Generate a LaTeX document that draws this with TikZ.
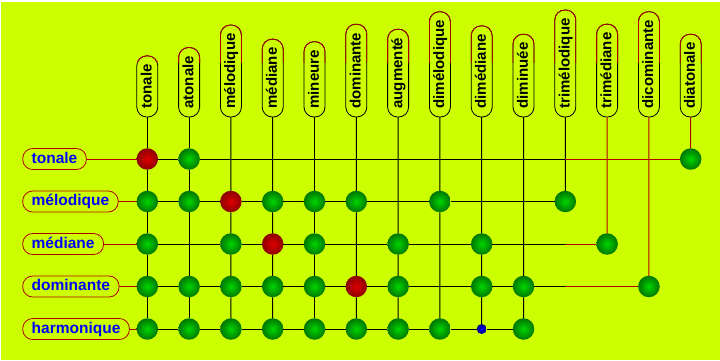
\documentclass[tikz,border=0pt]{standalone}
\usepackage{fontspec}
\setsansfont{Liberation Sans}
\usepackage{tikz}
\definecolor{bgyellow}{RGB}{204,255,0}
\definecolor{labred}{RGB}{176,0,0}
\definecolor{ballgreen}{RGB}{0,214,0}
\definecolor{balldkgreen}{RGB}{0,118,0}
\definecolor{ballred}{RGB}{222,0,0}
\definecolor{balldkred}{RGB}{140,0,0}
\definecolor{dotblue}{RGB}{0,0,230}
\definecolor{dotdkblue}{RGB}{0,0,140}

\begin{document}
\begin{tikzpicture}[x=1pt,y=-1pt,
    collab/.style={draw=black,line width=0.8pt,rounded corners=10pt,rotate=90,anchor=west,
      minimum height=21pt,inner xsep=8.5pt,inner ysep=0pt,outer sep=0pt,text height=11.5pt,text depth=3pt,
      font=\sffamily\bfseries\fontsize{15}{17}\selectfont},
    rowlab/.style={draw=labred,line width=0.8pt,rounded corners=10pt,anchor=west,
      minimum height=21pt,inner xsep=9pt,inner ysep=0pt,outer sep=0pt,text height=11.5pt,text depth=3pt,
      text=blue,font=\sffamily\bfseries\fontsize{15.5}{17}\selectfont},
    gball/.style={circle,minimum size=21.5pt,inner sep=0pt,outer sep=0pt,shading=radial,inner color=ballgreen,outer color=balldkgreen},
    rball/.style={gball,inner color=ballred,outer color=balldkred},
    bdot/.style={circle,minimum size=10pt,inner sep=0pt,outer sep=0pt,shading=radial,inner color=dotblue,outer color=dotdkblue},
    wire/.style={line width=1pt},
    redwire/.style={wire,labred}]
  \useasboundingbox (0,0) rectangle (720,360);
  \fill[white] (0,0) rectangle (720,360);
  \fill[bgyellow] (1,1.5) rectangle (720,360);

  \node[collab] (ctonale) at (147.3,117) {tonale};
  \node[collab] (catonale) at (189.1,117) {atonale};
  \node[collab] (cmelodique) at (230.9,117) {mélodique};
  \node[collab] (cmediane) at (272.7,117) {médiane};
  \node[collab] (cmineure) at (314.5,117) {mineure};
  \node[collab] (cdominante) at (356.3,117) {dominante};
  \node[collab] (caugmente) at (398.1,117) {augmenté};
  \node[collab] (cdimelodique) at (439.9,117) {dimélodique};
  \node[collab] (cdimediane) at (481.7,117) {dimédiane};
  \node[collab] (cdiminuee) at (523.5,117) {diminuée};
  \node[collab] (ctrimelodique) at (565.3,117) {trimélodique};
  \node[collab] (ctrimediane) at (607.1,117) {trimédiane};
  \node[collab] (cdicominante) at (648.9,117) {dicominante};
  \node[collab] (cdiatonale) at (690.7,117) {diatonale};

  \begin{scope}
    \clip (0,0) rectangle (720,62);
    \foreach \n in {ctonale,catonale,cmelodique,cmediane,cmineure,cdominante,caugmente,
      cdimelodique,cdimediane,cdiminuee,ctrimelodique,ctrimediane,cdicominante,cdiatonale}
      \draw[labred,line width=0.8pt,rounded corners=10pt] (\n.south west) rectangle (\n.north east);
  \end{scope}

  \node[rowlab] (rtonale) at (22.7,159) {tonale};
  \node[rowlab] (rmelodique) at (22.7,201.5) {mélodique};
  \node[rowlab] (rmediane) at (22.7,244) {médiane};
  \node[rowlab] (rdominante) at (22.7,286.5) {dominante};
  \node[rowlab] (rharmonique) at (22.7,329) {harmonique};

  \node[rball] (b1-1) at (147.3,159) {};
  \foreach \c in {2,14} \node[gball] (b1-\c) at ({105.5+41.8*\c},159) {};
  \node[rball] (b2-3) at (230.9,201.5) {};
  \foreach \c in {1,2,4,5,6,8,11} \node[gball] (b2-\c) at ({105.5+41.8*\c},201.5) {};
  \node[rball] (b3-4) at (272.7,244) {};
  \foreach \c in {1,3,5,7,9,12} \node[gball] (b3-\c) at ({105.5+41.8*\c},244) {};
  \node[rball] (b4-6) at (356.3,286.5) {};
  \foreach \c in {1,2,3,4,5,7,9,10,13} \node[gball] (b4-\c) at ({105.5+41.8*\c},286.5) {};
  \foreach \c in {1,2,3,4,5,6,7,8,10} \node[gball] (b5-\c) at ({105.5+41.8*\c},329) {};
  \node[bdot] (b5-9) at (481.7,329) {};

  \coordinate (s1) at (565.3,159);
  \coordinate (s3) at (565.3,244);
  \coordinate (s4) at (565.3,286.5);

  \draw[wire] (ctonale) -- (b1-1) -- (b2-1) -- (b3-1) -- (b4-1) -- (b5-1);
  \draw[wire] (catonale) -- (b1-2) -- (b2-2) -- (b4-2) -- (b5-2);
  \draw[wire] (cmelodique) -- (b2-3) -- (b3-3) -- (b4-3) -- (b5-3);
  \draw[wire] (cmediane) -- (b2-4) -- (b3-4) -- (b4-4) -- (b5-4);
  \draw[wire] (cmineure) -- (b2-5) -- (b3-5) -- (b4-5) -- (b5-5);
  \draw[wire] (cdominante) -- (b2-6) -- (b4-6) -- (b5-6);
  \draw[wire] (caugmente) -- (b3-7) -- (b4-7) -- (b5-7);
  \draw[wire] (cdimelodique) -- (b2-8) -- (b5-8);
  \draw[wire] (cdimediane) -- (b3-9) -- (b4-9) -- (b5-9);
  \draw[wire] (cdiminuee) -- (b4-10) -- (b5-10);
  \draw[wire] (ctrimelodique) -- (b2-11);
  \draw[redwire] (ctrimediane) -- (b3-12);
  \draw[redwire] (cdicominante) -- (b4-13);
  \draw[redwire] (cdiatonale) -- (b1-14);

  \draw[redwire] (rtonale) -- (b1-1);
  \draw[wire] (b1-1) -- (b1-2) -- (s1);
  \draw[redwire] (s1) -- (b1-14);
  \draw[redwire] (rmelodique) -- (b2-1);
  \draw[wire] (b2-1) -- (b2-2) -- (b2-3) -- (b2-4) -- (b2-5) -- (b2-6) -- (b2-8) -- (b2-11);
  \draw[redwire] (rmediane) -- (b3-1);
  \draw[wire] (b3-1) -- (b3-3) -- (b3-4) -- (b3-5) -- (b3-7) -- (b3-9) -- (s3);
  \draw[redwire] (s3) -- (b3-12);
  \draw[redwire] (rdominante) -- (b4-1);
  \draw[wire] (b4-1) -- (b4-2) -- (b4-3) -- (b4-4) -- (b4-5) -- (b4-6) -- (b4-7) -- (b4-9) -- (b4-10) -- (s4);
  \draw[redwire] (s4) -- (b4-13);
  \draw[redwire] (rharmonique) -- (b5-1);
  \draw[wire] (b5-1) -- (b5-2) -- (b5-3) -- (b5-4) -- (b5-5) -- (b5-6) -- (b5-7) -- (b5-8) -- (b5-9) -- (b5-10);
\end{tikzpicture}
\end{document}
